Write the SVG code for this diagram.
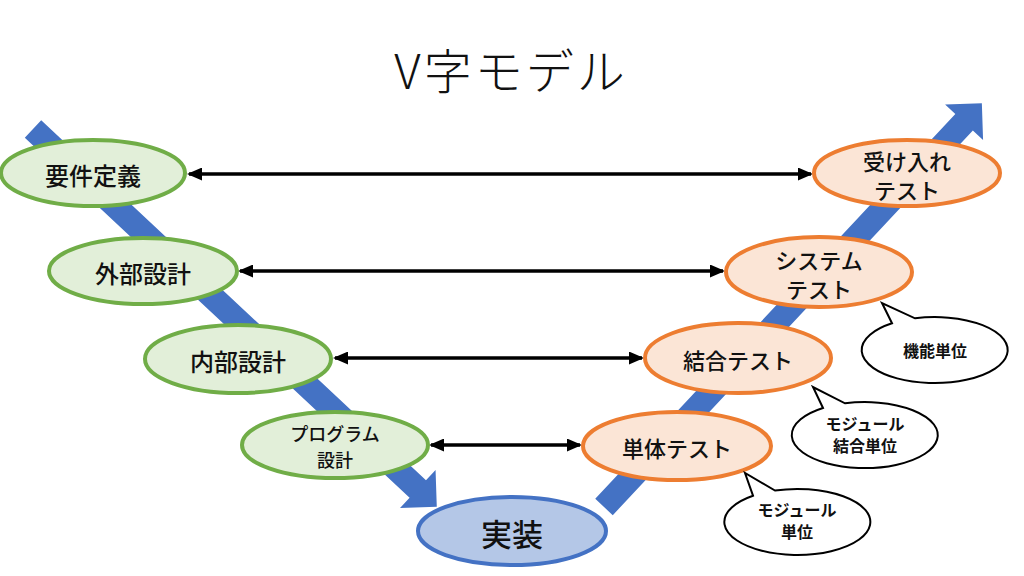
<svg xmlns="http://www.w3.org/2000/svg" width="1024" height="576" viewBox="0 0 1024 576">
<style>
  text { font-family: "Noto Sans CJK JP", "Noto Sans", sans-serif; fill: #111; text-anchor: middle; dominant-baseline: central; }
  .title { font-size: 48px; font-weight: 300; letter-spacing: 3px; dominant-baseline: alphabetic; }
  .design { fill: #e2efd9; stroke: #70ad47; stroke-width: 4; }
  .test { fill: #fbe5d6; stroke: #ed7d31; stroke-width: 4; }
  .impl { fill: #b4c7e7; stroke: #4472c4; stroke-width: 4; }
  .flow { fill: #4472c4; }
  .link { stroke: #000; stroke-width: 3.5; fill: none; marker-start: url(#ah); marker-end: url(#ah); }
  .bubble { fill: #fff; stroke: #000; stroke-width: 2; }
  .n24 { font-size: 24px; font-weight: 500; }
  .n22 { font-size: 22px; font-weight: 500; }
  .n18 { font-size: 18px; font-weight: 500; }
  .n30 { font-size: 31px; font-weight: 500; }
  .b16 { font-size: 16px; font-weight: 700; }
</style>
<defs>
  <marker id="ah" viewBox="0 0 15 13" markerWidth="15" markerHeight="13" refX="13" refY="6.5" orient="auto-start-reverse" markerUnits="userSpaceOnUse">
    <path d="M0,0 L15,6.5 L0,13 Z" fill="#000"/>
  </marker>
</defs>
<rect width="1024" height="576" fill="#fff"/>
<text class="title" x="511" y="89">V字モデル</text>

<g id="flow-arrows">
  <polygon class="flow" transform="translate(33,129) rotate(43.1)" points="0,-12 527,-12 527,-26 553,0 527,26 527,12 0,12"/>
  <polygon class="flow" transform="translate(604,507) rotate(-46.9)" points="0,-12 527,-12 527,-26 553,0 527,26 527,12 0,12"/>
</g>

<g id="connectors">
  <line class="link" x1="189" y1="174" x2="811" y2="174"/>
  <line class="link" x1="240" y1="271" x2="723" y2="271"/>
  <line class="link" x1="335" y1="358" x2="642" y2="358"/>
  <line class="link" x1="431" y1="445" x2="580" y2="445"/>
</g>

<g id="n-youken">
  <ellipse class="design" cx="93" cy="173" rx="92" ry="33"/>
  <text class="n24" x="93" y="174">要件定義</text>
</g>
<g id="n-gaibu">
  <ellipse class="design" cx="143" cy="271" rx="94" ry="33"/>
  <text class="n24" x="143" y="272">外部設計</text>
</g>
<g id="n-naibu">
  <ellipse class="design" cx="238" cy="359" rx="93" ry="34"/>
  <text class="n24" x="238" y="360">内部設計</text>
</g>
<g id="n-program">
  <ellipse class="design" cx="335" cy="445" rx="93" ry="33"/>
  <text class="n18" x="335" y="433">プログラム</text>
  <text class="n18" x="335" y="459">設計</text>
</g>

<g id="n-jisso">
  <ellipse class="impl" cx="512" cy="531" rx="94" ry="34"/>
  <text class="n30" x="512" y="532">実装</text>
</g>

<g id="n-ukeire">
  <ellipse class="test" cx="907" cy="173" rx="93" ry="33"/>
  <text class="n22" x="907" y="160">受け入れ</text>
  <text class="n22" x="907" y="189">テスト</text>
</g>
<g id="n-system">
  <ellipse class="test" cx="819" cy="272" rx="93" ry="35"/>
  <text class="n22" x="819" y="259">システム</text>
  <text class="n22" x="819" y="288">テスト</text>
</g>
<g id="n-ketsugo">
  <ellipse class="test" cx="738" cy="358" rx="93" ry="35"/>
  <text class="n22" x="738" y="359">結合テスト</text>
</g>
<g id="n-tantai">
  <ellipse class="test" cx="677" cy="446" rx="94" ry="34"/>
  <text class="n22" x="677" y="447">単体テスト</text>
</g>

<g id="c-kinou">
  <path class="bubble" d="M892,323.3 L882,303 L915,318.3 A73,33 0 1 1 892,323.3 Z"/>
  <text class="b16" x="935" y="350">機能単位</text>
</g>
<g id="c-module-ketsugo">
  <path class="bubble" d="M823,408 L813,387 L845,403.3 A73,33 0 1 1 823,408 Z"/>
  <text class="b16" x="865" y="423">モジュール</text>
  <text class="b16" x="865" y="445">結合単位</text>
</g>
<g id="c-module">
  <path class="bubble" d="M753,495.7 L745,473 L775,490.5 A73,33 0 1 1 753,495.7 Z"/>
  <text class="b16" x="797" y="509">モジュール</text>
  <text class="b16" x="797" y="531">単位</text>
</g>
</svg>
